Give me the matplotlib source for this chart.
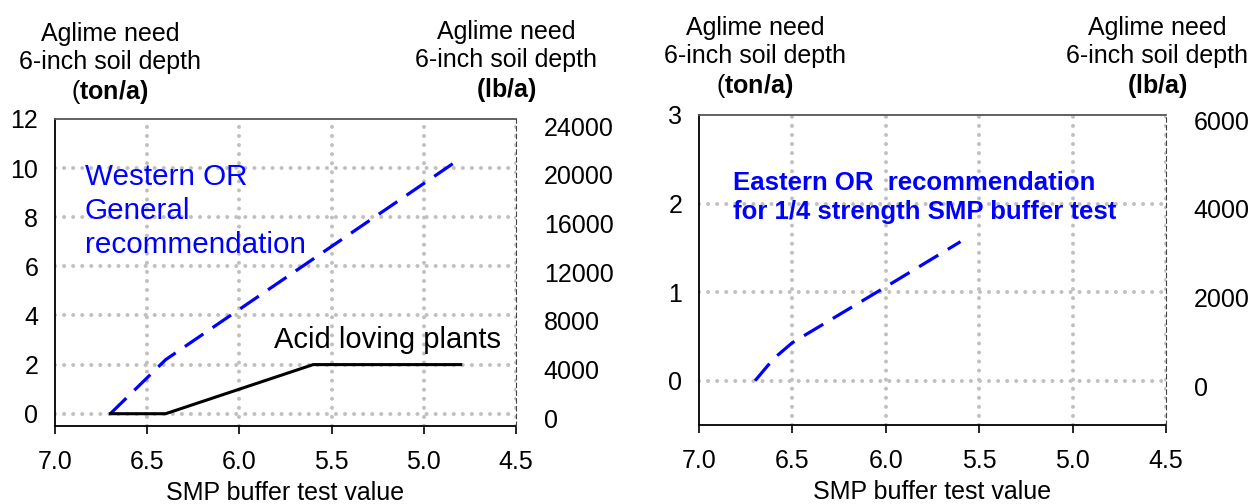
import numpy as np
import matplotlib
matplotlib.use("Agg")
import matplotlib.pyplot as plt

plt.rcParams["font.family"] = "Liberation Sans"
plt.rcParams["mathtext.fontset"] = "custom"
plt.rcParams["mathtext.rm"] = "Liberation Sans"
plt.rcParams["mathtext.bf"] = "Liberation Sans:bold"

# data
smp_west = [6.7, 6.4, 4.8]
ton_west = [0.0, 2.2, 10.4]
smp_acid = [6.7, 6.4, 5.6, 4.8]
ton_acid = [0.0, 0.0, 2.0, 2.0]
smp_east = [6.7, 6.6, 6.5, 6.0, 5.6]
ton_east = [0.0, 0.25, 0.43, 1.06, 1.57]

xticks = [7.0, 6.5, 6.0, 5.5, 5.0, 4.5]
yticks_left = [0, 2, 4, 6, 8, 10, 12]
yticks_left_lb = [0, 4000, 8000, 12000, 16000, 20000, 24000]
yticks_right = [0, 1, 2, 3]
yticks_right_lb = [0, 2000, 4000, 6000]

W, H = 1254, 504
fs = 18
grid_kw = dict(color="#c0c0c0", lw=2.9, ls=(0, (0.01, 2.24)), dash_capstyle="round", zorder=1)
blue = "#0000ff"


def style(ax, ylim, yticks, twin_lim, twin_ticks):
    ax.set_xlim(7.0, 4.5)
    ax.set_ylim(*ylim)
    ax.set_xticks(xticks)
    ax.set_xticklabels([f"{v:.1f}" for v in xticks])
    ax.set_yticks(yticks)
    ax.tick_params(axis="x", labelsize=fs, length=6, width=1.2, pad=11)
    ax.tick_params(axis="y", labelsize=fs, length=0, pad=12)
    for v in xticks[1:]:
        ax.axvline(v, **grid_kw)
    for v in yticks[:-1]:
        ax.axhline(v, **grid_kw)
    ax.spines["left"].set_linewidth(1.3)
    ax.spines["bottom"].set_linewidth(1.3)
    ax.spines["top"].set_color("#555555")
    ax.spines["top"].set_linewidth(1.3)
    ax.spines["right"].set_visible(False)
    ax.set_xlabel("SMP buffer test value", fontsize=fs, labelpad=5)
    tw = ax.twinx()
    tw.set_ylim(*twin_lim)
    tw.set_yticks(twin_ticks)
    tw.tick_params(axis="y", labelsize=fs, length=0, pad=20)
    for s in ["left", "top", "bottom"]:
        tw.spines[s].set_visible(False)
    tw.spines["right"].set_color("#444444")
    tw.spines["right"].set_linestyle((0, (4, 3)))
    tw.spines["right"].set_linewidth(0.8)
    return tw


fig = plt.figure(figsize=(W / 100, H / 100), dpi=100)
ax1 = fig.add_axes([55 / W, (H - 426) / H, (516 - 55) / W, (426 - 119) / H])
ax2 = fig.add_axes([699 / W, (H - 425) / H, (1166 - 699) / W, (425 - 115) / H])

style(ax1, (-0.5, 12), yticks_left, (-630, 24580), yticks_left_lb)
style(ax2, (-0.5, 3), yticks_right, (-880, 6120), yticks_right_lb)

dash = (0, (7, 3.5))
ax1.plot(smp_west, ton_west, color=blue, lw=2.3, ls=dash, zorder=3)
ax1.plot(smp_acid, ton_acid, color="black", lw=2.2, zorder=3)
ax1.text(6.84, 10.2, "Western OR\nGeneral\nrecommendation", color=blue,
         fontsize=21.3, va="top", ha="left", linespacing=1.27, zorder=4)
ax1.text(5.81, 3.0, "Acid loving plants", color="black", fontsize=21,
         va="center", ha="left", zorder=4)

ax2.plot(smp_east, ton_east, color=blue, lw=2.3, ls=dash, zorder=3)
ax2.text(6.82, 2.37, "Eastern OR  recommendation\nfor 1/4 strength SMP buffer test",
         color=blue, fontsize=18.5, fontweight="bold", va="top", ha="left",
         linespacing=1.25, zorder=4)

# axis titles above the plots
unit_ton = "Aglime need\n6-inch soil depth\n(" + r"$\mathbf{ton/a)}$"
unit_lb = "Aglime need\n6-inch soil depth\n" + r"$\mathbf{(lb/a)}$"
for x, y, s in [(110, 64, unit_ton), (506, 62, unit_lb),
                (755, 58, unit_ton), (1157, 58, unit_lb)]:
    fig.text(x / W, 1 - y / H, s, fontsize=fs, ha="center", va="center",
             multialignment="center", linespacing=1.2)

fig.savefig("out.png", dpi=100)
